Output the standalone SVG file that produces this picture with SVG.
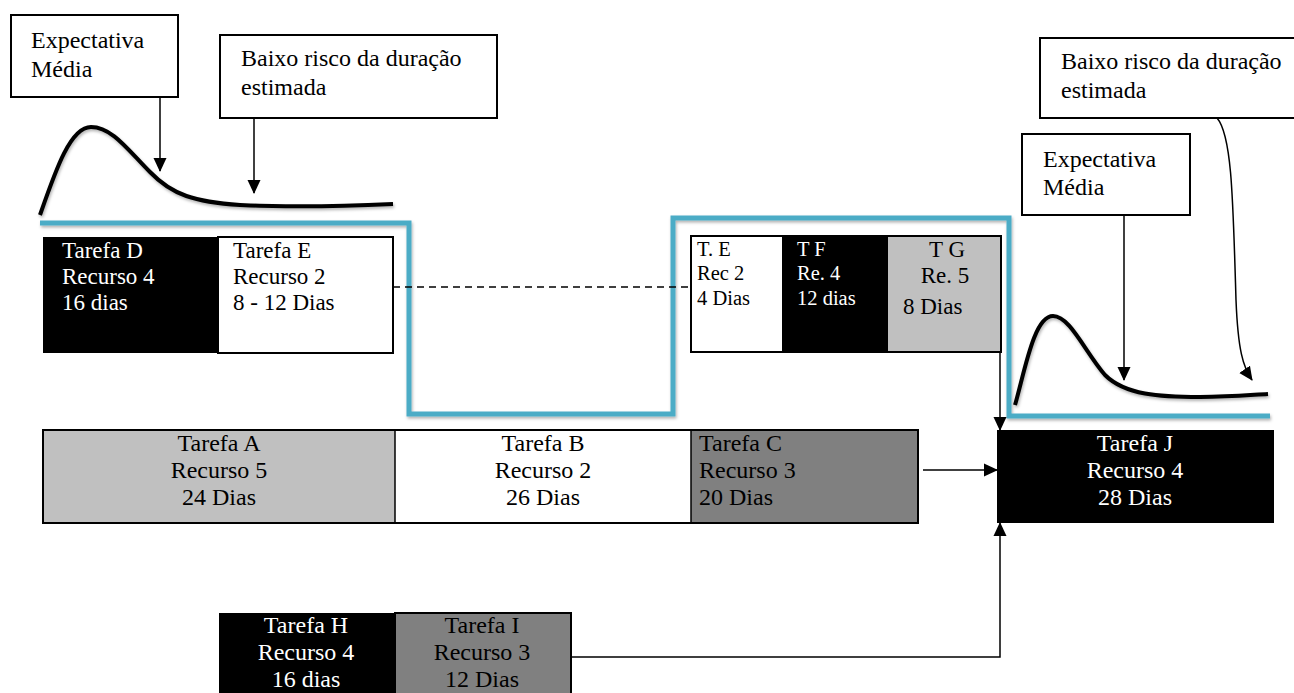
<svg xmlns="http://www.w3.org/2000/svg" width="1294" height="693" viewBox="0 0 1294 693">
  <defs>
    <marker id="arrL" markerWidth="14" markerHeight="14" refX="13" refY="7" orient="auto" markerUnits="userSpaceOnUse">
      <path d="M0,0.5 L14,7 L0,13.5 z" fill="#000"/>
    </marker>
    <filter id="sh" x="-5%" y="-5%" width="110%" height="120%">
      <feDropShadow dx="1" dy="2" stdDeviation="1.5" flood-color="#000" flood-opacity="0.3"/>
    </filter>
  </defs>
  <style>
    text { font-family: "Liberation Serif", "Times New Roman", serif; font-size: 24px; fill: #000; }
    .w { fill: #fff; }
    .m { font-size: 23px; }
    .sm { font-size: 20.5px; }
    .c { text-anchor: middle; }
    .note { fill: #fff; stroke: #000; stroke-width: 2; }
    .blk { fill: #000; }
    .g1 { fill: #c0c0c0; }
    .g2 { fill: #808080; }
    .wh { fill: #fff; }
    .frame { fill: none; stroke: #000; stroke-width: 2; }
    .blue { fill: none; stroke: #4BACC6; stroke-width: 5; filter: url(#sh); }
    .curve { fill: none; stroke: #000; stroke-width: 4; filter: url(#sh); }
    .ln { fill: none; stroke: #000; stroke-width: 1.5; }
  </style>

  <rect width="1294" height="693" fill="#fff"/>

  <!-- buffer line -->
  <path class="blue" d="M40,223 H409 V414 H673 V218 H1009 V416 H1270"/>

  <!-- probability curves -->
  <path class="curve" d="M40,215 C55,172 70,127 91,127 C112,127 128,150 150,172 C172,195 195,202 240,205 C300,208 350,206 393,204"/>
  <path class="curve" d="M1015,405 C1025,370 1034,316 1053,316 C1070,316 1085,352 1105,375 C1125,395 1160,397 1200,397 C1230,397 1250,395 1268,394"/>

  <!-- notes -->
  <g id="note-expectativa-1">
    <rect class="note" x="11" y="15" width="167" height="82"/>
    <text x="31" y="48">Expectativa</text>
    <text x="31" y="77">Média</text>
  </g>
  <g id="note-risco-1">
    <rect class="note" x="220" y="35" width="277" height="83"/>
    <text x="241" y="66">Baixo risco da duração</text>
    <text x="241" y="95">estimada</text>
  </g>
  <g id="note-risco-2">
    <rect class="note" x="1040" y="38" width="262" height="80"/>
    <text x="1061" y="69">Baixo risco da duração</text>
    <text x="1061" y="98">estimada</text>
  </g>
  <g id="note-expectativa-2">
    <rect class="note" x="1022" y="134" width="168" height="81"/>
    <text x="1043" y="167">Expectativa</text>
    <text x="1043" y="195">Média</text>
  </g>

  <!-- task D / E -->
  <g id="tarefa-de">
    <rect class="blk" x="43" y="237" width="175" height="116"/>
    <rect class="wh" x="218" y="237" width="175" height="116"/>
    <rect class="frame" x="218" y="237" width="175" height="116"/>
    <text class="m w" x="62" y="258">Tarefa D</text>
    <text class="m w" x="62" y="284">Recurso 4</text>
    <text class="m w" x="62" y="310">16 dias</text>
    <text class="m" x="233" y="258">Tarefa E</text>
    <text class="m" x="233" y="284">Recurso 2</text>
    <text class="m" x="233" y="310">8 - 12 Dias</text>
  </g>

  <!-- task E / F / G -->
  <g id="tarefa-efg">
    <rect class="wh" x="691" y="236" width="91" height="116"/>
    <rect class="blk" x="782" y="236" width="106" height="116"/>
    <rect class="g1" x="888" y="236" width="113" height="116"/>
    <rect class="frame" x="691" y="236" width="310" height="116"/>
    <text class="sm" x="697" y="256">T. E</text>
    <text class="sm" x="697" y="280">Rec 2</text>
    <text class="sm" x="697" y="305">4 Dias</text>
    <text class="sm w" x="797" y="256">T F</text>
    <text class="sm w" x="797" y="280">Re. 4</text>
    <text class="sm w" x="797" y="305">12 dias</text>
    <text class="m c" x="947" y="257">T G</text>
    <text class="m c" x="945" y="283">Re. 5</text>
    <text class="m" x="903" y="314">8 Dias</text>
  </g>

  <!-- task A / B / C -->
  <g id="tarefa-abc">
    <rect class="g1" x="43" y="430" width="352" height="93"/>
    <rect class="wh" x="395" y="430" width="296" height="93"/>
    <rect class="g2" x="691" y="430" width="227" height="93"/>
    <rect class="frame" x="43" y="430" width="875" height="93"/>
    <line x1="395" y1="430" x2="395" y2="523" stroke="#000" stroke-width="1.5"/>
    <line x1="691" y1="430" x2="691" y2="523" stroke="#000" stroke-width="1.5"/>
    <text class="c" x="219" y="451">Tarefa A</text>
    <text class="c" x="219" y="478">Recurso 5</text>
    <text class="c" x="219" y="505">24 Dias</text>
    <text class="c" x="543" y="451">Tarefa B</text>
    <text class="c" x="543" y="478">Recurso 2</text>
    <text class="c" x="543" y="505">26 Dias</text>
    <text x="699" y="451">Tarefa C</text>
    <text x="699" y="478">Recurso 3</text>
    <text x="699" y="505">20 Dias</text>
  </g>

  <!-- task J -->
  <g id="tarefa-j">
    <rect class="blk" x="997" y="430" width="277" height="93"/>
    <text class="c w" x="1135" y="451">Tarefa J</text>
    <text class="c w" x="1135" y="478">Recurso 4</text>
    <text class="c w" x="1135" y="505">28 Dias</text>
  </g>

  <!-- task H / I -->
  <g id="tarefa-hi">
    <rect class="blk" x="219" y="613" width="176" height="86"/>
    <rect class="g2" x="395" y="613" width="176" height="86"/>
    <rect class="frame" x="395" y="613" width="176" height="86"/>
    <text class="c w" x="306" y="633">Tarefa H</text>
    <text class="c w" x="306" y="660">Recurso 4</text>
    <text class="c w" x="306" y="687">16 dias</text>
    <text class="c" x="482" y="633">Tarefa I</text>
    <text class="c" x="482" y="660">Recurso 3</text>
    <text class="c" x="482" y="687">12 Dias</text>
  </g>

  <!-- connectors -->
  <g id="connectors">
    <line class="ln" x1="160" y1="97" x2="160" y2="171" marker-end="url(#arrL)"/>
    <line class="ln" x1="254" y1="118" x2="254" y2="193" marker-end="url(#arrL)"/>
    <line class="ln" x1="1124" y1="215" x2="1124" y2="380" marker-end="url(#arrL)"/>
    <path class="ln" d="M1217,118 C1232,135 1233,200 1236,300 C1238,350 1243,367 1252,380" marker-end="url(#arrL)"/>
    <line x1="393" y1="287" x2="691" y2="287" stroke="#000" stroke-width="1.5" stroke-dasharray="7,5"/>
    <line class="ln" x1="1000" y1="352" x2="1000" y2="430" marker-end="url(#arrL)"/>
    <line class="ln" x1="923" y1="470" x2="997" y2="470" marker-end="url(#arrL)"/>
    <path class="ln" d="M571,657 H1000 V523" marker-end="url(#arrL)"/>
  </g>
</svg>
